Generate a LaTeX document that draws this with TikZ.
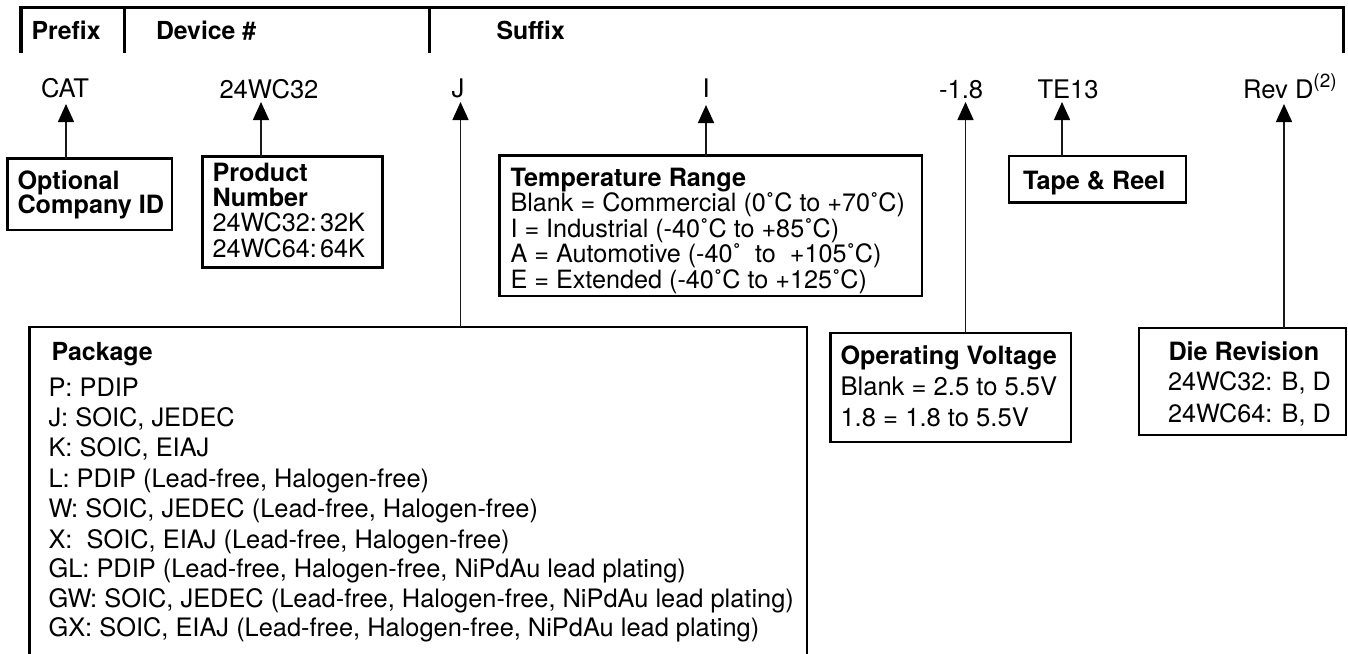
\documentclass[tikz,border=0pt]{standalone}
\usepackage{fontspec}
\setmainfont{TeX Gyre Heros}
\usetikzlibrary{arrows.meta}
\tikzset{
  x=1pt,y=-1pt,
  txt/.style={anchor=base west,inner sep=0pt,outer sep=0pt,font=\fontsize{25.2}{25}\selectfont},
  txtb/.style={txt,font=\fontsize{25.6}{25}\selectfont},
  ttl/.style={txt,font=\fontsize{25.2}{25}\selectfont\bfseries},
  hdrtxt/.style={txt,font=\fontsize{24.8}{25}\selectfont\bfseries},
  pkgtxt/.style={txt,font=\fontsize{25.4}{25}\selectfont},
  pkgttl/.style={txt,font=\fontsize{24.9}{25}\selectfont\bfseries},
  box/.style={draw=black,line width=2.1pt,anchor=north west,inner sep=0pt,outer sep=0pt,fill=white},
  conn/.style={draw=black!90,line width=1.5pt,-{Triangle[width=16pt,length=18pt,color=black,fill=black]}},
  hdr/.style={draw=black,line width=3.2pt},
}
\newcommand{\bx}[5]{\node[box,minimum width=#4 pt-#2 pt,minimum height=#5 pt-#3 pt] (#1) at (#2,#3) {};}
\newcommand{\dg}{˚}
\begin{document}
\begin{tikzpicture}
\useasboundingbox (0,0) rectangle (1348,653);
\clip (0,0) rectangle (1348,653);
\fill[white] (0,0) rectangle (1348,653);
% header
\coordinate (hl) at (21,53);
\coordinate (hr) at (1343.5,53);
\coordinate (hd1) at (124.5,53);
\coordinate (hd2) at (429.5,53);
\draw[hdr] (hl) -- (hl |- 0,7.5) -- (hr |- 0,7.5) -- (hr);
\draw[hdr] (hd1) -- (hd1 |- 0,7.5);
\draw[hdr] (hd2) -- (hd2 |- 0,7.5);
\node[hdrtxt] (prefix) at (31.5,39) {Prefix};
\node[hdrtxt] (device) at (156,39) {Device \#};
\node[hdrtxt] (suffix) at (496.5,39) {Suffix};
% part number
\node[txtb] (cat) at (41,97) {CAT};
\node[txtb] (num) at (219.5,98) {24WC32};
\node[txtb] (j) at (451.5,97) {J};
\node[txtb] (i) at (702.5,97) {I};
\node[txtb] (volt) at (939,98) {-1.8};
\node[txtb] (te) at (1037.5,98) {TE13};
\node[txtb] (rev) at (1243,98) {Rev D\raisebox{11pt}{\fontsize{19}{20}\selectfont (2)}};
% boxes
\bx{bopt}{7.5}{158.5}{172}{230}
\bx{bprod}{202.5}{156.5}{382.5}{267.5}
\bx{btemp}{499.5}{155.5}{922}{296}
\bx{btape}{1009}{156}{1186}{202.5}
\bx{bvolt}{830.5}{333}{1071}{442}
\bx{bdie}{1139}{328}{1346}{435}
\bx{bpkg}{29.5}{327}{807}{680}
% box texts
\node[ttl] (o1) at (17.5,189) {Optional};
\node[ttl] (o2) at (17.5,213) {Company ID};
\node[ttl] (p1) at (212.5,181.5) {Product};
\node[ttl] (p2) at (212.5,206.5) {Number};
\node[txt] (p3) at (212.5,231.5) {24WC32:\hspace{-1pt}\,32K};
\node[txt] (p4) at (212.5,257) {24WC64:\hspace{-1pt}\,64K};
\node[ttl] (t0) at (510.5,186.5) {Temperature Range};
\node[txt] (t1) at (510.5,211.5) {Blank = Commercial (0\dg C to +70\dg C)};
\node[txt] (t2) at (510.5,237.5) {I = Industrial (-40\dg C to +85\dg C)};
\node[txt] (t3) at (510.5,262.5) {A = Automotive (-40\dg~ to~ +105\dg C)};
\node[txt] (t4) at (510.5,288) {E = Extended (-40\dg C to +125\dg C)};
\node[ttl] (tp) at (1023,189) {Tape \& Reel};
\node[ttl] (v0) at (840.5,364) {Operating Voltage};
\node[txtb] (v1) at (840.5,395) {Blank = 2.5 to 5.5V};
\node[txtb] (v2) at (840.5,426.5) {1.8 = 1.8 to 5.5V};
\node[ttl] (d0) at (1168.5,360) {Die Revision};
\node[txt] (d1) at (1168,390.5) {24WC32: B, D};
\node[txt] (d2) at (1168,422) {24WC64: B, D};
\node[pkgttl] (k0) at (51.5,360.5) {Package};
\node[pkgtxt] (k1) at (48.5,396) {P: PDIP};
\node[pkgtxt] (k2) at (48.5,426.5) {J: SOIC, JEDEC};
\node[pkgtxt] (k3) at (48.5,456.5) {K: SOIC, EIAJ};
\node[pkgtxt] (k4) at (48.5,487.5) {L: PDIP (Lead-free, Halogen-free)};
\node[pkgtxt] (k5) at (48.5,517.5) {W: SOIC, JEDEC (Lead-free, Halogen-free)};
\node[pkgtxt] (k6) at (48.5,548) {X:~ SOIC, EIAJ (Lead-free, Halogen-free)};
\node[pkgtxt] (k7) at (48.5,577) {GL: PDIP (Lead-free, Halogen-free, NiPdAu lead plating)};
\node[pkgtxt] (k8) at (48.5,607) {GW: SOIC, JEDEC (Lead-free, Halogen-free, NiPdAu lead plating)};
\node[pkgtxt] (k9) at (48.5,636.5) {GX: SOIC, EIAJ (Lead-free, Halogen-free, NiPdAu lead plating)};
% arrows
\coordinate (acat) at (66,104);
\coordinate (anum) at (261,102);
\coordinate (aj) at (460.5,102);
\coordinate (ai) at (706,105);
\coordinate (avolt) at (965.5,102);
\coordinate (ate) at (1062,102);
\coordinate (arev) at (1284,104);
\draw[conn] (bopt.north -| acat) -- (acat);
\draw[conn] (bprod.north -| anum) -- (anum);
\draw[conn] (bpkg.north -| aj) -- (aj);
\draw[conn] (btemp.north -| ai) -- (ai);
\draw[conn] (bvolt.north -| avolt) -- (avolt);
\draw[conn] (btape.north -| ate) -- (ate);
\draw[conn] (bdie.north -| arev) -- (arev);
\end{tikzpicture}
\end{document}
